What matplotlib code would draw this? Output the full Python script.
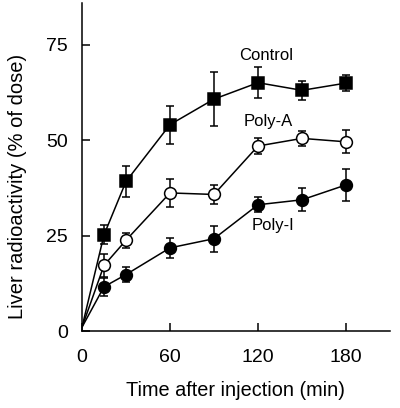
"""Liver radioactivity over time after injection (Control / Poly-A / Poly-I)."""
import matplotlib
matplotlib.use("Agg")
import matplotlib.pyplot as plt

plt.rcParams["font.family"] = ["Liberation Sans", "DejaVu Sans"]

# sampling times (min); t=0 is the common start without marker
times = [0, 15, 30, 60, 90, 120, 150, 180]

control = [1, 25.2, 39.2, 54.1, 60.8, 65.1, 63.1, 65.0]
control_err = [0, 2.5, 4.0, 5.0, 7.0, 4.0, 2.5, 2.0]

poly_a = [1, 17.2, 23.8, 36.2, 35.8, 48.5, 50.5, 49.6]
poly_a_err = [0, 3.0, 2.0, 3.7, 2.5, 2.0, 2.0, 3.0]

poly_i = [1, 11.6, 14.8, 21.8, 24.2, 33.1, 34.4, 38.3]
poly_i_err = [0, 2.4, 2.0, 2.7, 3.4, 2.0, 3.0, 4.3]

xticks = [0, 60, 120, 180]
yticks = [0, 25, 50, 75]

series = [
    ("Control", control, control_err, "s", "black", (125.5, 72.3)),
    ("Poly-A", poly_a, poly_a_err, "o", "white", (126.8, 55.0)),
    ("Poly-I", poly_i, poly_i_err, "o", "black", (130.0, 27.7)),
]

fig = plt.figure(figsize=(4.0, 4.08), dpi=100)
ax = fig.add_axes([0.205, 0.1887, 0.77, 0.804])

for name, vals, err, marker, face, (tx, ty) in series:
    ax.plot(times, vals, color="black", lw=1.1, zorder=2)
    ax.errorbar(times[1:], vals[1:], yerr=err[1:], fmt="none", ecolor="black",
                elinewidth=1.1, capsize=3.2, capthick=1.1, zorder=3)
    ax.plot(times[1:], vals[1:], ls="none", marker=marker, ms=8 if marker == "s" else 8.5,
            mfc=face, mec="black", mew=1.1, zorder=4)
    ax.text(tx, ty, name, ha="center", va="center", fontsize=12)

ax.set_xlim(0, 210)
ax.set_ylim(0, 86)
ax.set_xticks(xticks)
ax.set_yticks(yticks)
ax.tick_params(direction="in", length=6, width=1.1, labelsize=14)
ax.tick_params(axis="y", pad=10)
ax.tick_params(axis="x", pad=13)
for side in ("top", "right"):
    ax.spines[side].set_visible(False)
for side in ("left", "bottom"):
    ax.spines[side].set_linewidth(1.1)

ax.set_xlabel("Time after injection (min)", fontsize=14.3, labelpad=11)
ax.set_ylabel("Liver radioactivity (% of dose)", fontsize=14.5, va="center")
ax.yaxis.set_label_coords(-0.211, 0.442)

fig.savefig("out.png", dpi=100)
